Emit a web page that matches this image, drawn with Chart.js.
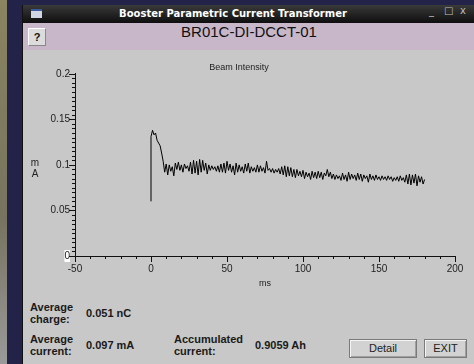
<!DOCTYPE html>
<html>
<head>
<meta charset="utf-8">
<script src="https://cdn.jsdelivr.net/npm/chart.js@4"></script>
<style>
  body { margin: 0; width: 474px; height: 364px; background: #23234a; overflow: hidden; position: relative; font-family: "Liberation Sans", Arial, sans-serif; }
  .strip { position: absolute; left: 0; top: 0; width: 7px; height: 364px; background: linear-gradient(#8a8460, #77735f 60%, #9a9a9a); }
  .win { position: absolute; left: 22px; top: 5px; width: 452px; height: 359px; background: #c8c8c8; border-left: 1px solid #111; }
  .titlebar { position: absolute; left: 0; top: 0; width: 452px; height: 18px; background: linear-gradient(#3a3a3a, #0e0e0e); color: #fff; font: bold 10px "DejaVu Sans", sans-serif; line-height: 18px; }
  .titlebar .txt { position: absolute; left: 0; width: 420px; text-align: center; }
  .titlebar .ico { position: absolute; left: 8px; top: 4px; width: 11px; height: 9px; background: #cfd6e4; border-top: 2px solid #3a5a9a; box-sizing: border-box; }
  .titlebar .ctl { position: absolute; top: 0; color: #bbb; font: 10px "DejaVu Sans", sans-serif; }
  .hdr { position: absolute; left: 0; top: 18px; width: 452px; height: 27px; background: #c8b7c9; }
  .hdr .name { position: absolute; left: 0; width: 452px; top: 0; line-height: 27px; text-align: center; font: 15px "Liberation Sans", Arial, sans-serif; color: #111; }
  .hdr .help { position: absolute; left: 5px; top: 5px; width: 18px; height: 18px; box-sizing: border-box; background: #dcdcdc; border: 1px solid #888; border-top-color: #fff; border-left-color: #fff; font: bold 11px "Liberation Sans", sans-serif; text-align: center; line-height: 16px; color: #111; }
  #wrap { position: absolute; left: 23px; top: 50px; width: 451px; height: 245px; }
  .lbl { position: absolute; font: bold 11px "Liberation Sans", Arial, sans-serif; color: #1a1a1a; line-height: 12px; }
  .btn { position: absolute; height: 19px; box-sizing: border-box; background: #d2d2d2; border: 1px solid #7a7a7a; box-shadow: inset 1px 1px 0 #f4f4f4, inset -1px -1px 0 #a0a0a0; font: 11px "Liberation Sans", Arial, sans-serif; color: #222; text-align: center; line-height: 17px; }
</style>
</head>
<body>
<div class="strip"></div>
<div class="win">
  <div class="titlebar">
    <div class="ico"></div>
    <div class="txt">Booster Parametric Current Transformer</div>
    <div class="ctl" style="left:406px;">_</div>
    <div class="ctl" style="left:421px;">□</div>
    <div class="ctl" style="left:437px;">x</div>
  </div>
  <div class="hdr"><div class="help">?</div><div class="name">BR01C-DI-DCCT-01</div></div>
</div>
<div id="wrap"><canvas id="chart" width="451" height="245"></canvas></div>

<div class="lbl" style="left:30px; top:301px;">Average<br>charge:</div>
<div class="lbl" style="left:86px; top:307px;">0.051 nC</div>
<div class="lbl" style="left:30px; top:333px;">Average<br>current:</div>
<div class="lbl" style="left:86px; top:339px;">0.097 mA</div>
<div class="lbl" style="left:174px; top:333px;">Accumulated<br>current:</div>
<div class="lbl" style="left:255px; top:339px;">0.9059 Ah</div>
<div class="btn" style="left:349px; top:339px; width:68px;">Detail</div>
<div class="btn" style="left:424px; top:339px; width:43px;">EXIT</div>

<script>
// beam onset: vertical rise at t = 0
const onsetMs = [0];
const onsetMA = [0.060];

// sampled beam current, one sample per ms starting at 0 ms
const sampleStartMs = 0;
const sampleStepMs = 1;
const beamMA = [
  0.131, 0.138, 0.133, 0.135, 0.127, 0.124, 0.121, 0.113, 0.104, 0.092,
  0.101, 0.089, 0.100, 0.093, 0.098, 0.088, 0.102, 0.095, 0.103, 0.094,
  0.100, 0.092, 0.101, 0.096, 0.099, 0.093, 0.103, 0.090, 0.105, 0.091,
  0.104, 0.089, 0.106, 0.092, 0.105, 0.094, 0.102, 0.090, 0.100, 0.094,
  0.099, 0.095, 0.098, 0.093, 0.099, 0.092, 0.101, 0.092, 0.102, 0.091,
  0.104, 0.094, 0.101, 0.092, 0.099, 0.089, 0.102, 0.092, 0.100, 0.093,
  0.098, 0.091, 0.101, 0.093, 0.102, 0.091, 0.098, 0.093, 0.097, 0.092,
  0.100, 0.092, 0.099, 0.093, 0.097, 0.091, 0.104, 0.094, 0.096, 0.092,
  0.096, 0.091, 0.095, 0.092, 0.096, 0.090, 0.098, 0.089, 0.099, 0.087,
  0.098, 0.088, 0.097, 0.087, 0.095, 0.086, 0.095, 0.088, 0.093, 0.087,
  0.094, 0.085, 0.092, 0.087, 0.091, 0.084, 0.093, 0.086, 0.092, 0.085,
  0.093, 0.086, 0.092, 0.084, 0.091, 0.088, 0.095, 0.087, 0.092, 0.085,
  0.090, 0.084, 0.089, 0.085, 0.088, 0.083, 0.091, 0.084, 0.089, 0.082,
  0.092, 0.084, 0.090, 0.085, 0.089, 0.083, 0.091, 0.084, 0.090, 0.082,
  0.089, 0.085, 0.088, 0.081, 0.090, 0.084, 0.088, 0.083, 0.089, 0.084,
  0.087, 0.083, 0.088, 0.084, 0.087, 0.083, 0.088, 0.084, 0.087, 0.082,
  0.086, 0.083, 0.087, 0.082, 0.088, 0.083, 0.086, 0.081, 0.089, 0.079,
  0.090, 0.078, 0.089, 0.080, 0.090, 0.077, 0.088, 0.081, 0.087, 0.079,
  0.084
];

// axis ticks
const xTickMajor = [-50, 0, 50, 100, 150, 200];
const yTickMajor = [0, 0.05, 0.1, 0.15, 0.2];

const points = onsetMs.map((t, i) => ({ x: t, y: onsetMA[i] }))
  .concat(beamMA.map((v, i) => ({ x: sampleStartMs + i * sampleStepMs, y: v })));

const isMajor = (list, v) => list.some(m => Math.abs(m - v) < 1e-9);
const tickFont = { family: 'Liberation Sans', size: 10 };

// short outward tick marks, longer at labelled values
const tickMarks = {
  id: 'tickMarks',
  afterDraw(chart) {
    const ctx = chart.ctx;
    const xs = chart.scales.x, ys = chart.scales.y;
    const area = chart.chartArea;
    ctx.save();
    ctx.fillStyle = '#111';
    xs.ticks.forEach(t => {
      const px = Math.round(xs.getPixelForValue(t.value));
      const len = isMajor(xTickMajor, t.value) ? 6 : 3;
      ctx.fillRect(px, Math.round(area.bottom), 1, len);
    });
    ys.ticks.forEach(t => {
      const py = Math.round(ys.getPixelForValue(t.value));
      const len = isMajor(yTickMajor, t.value) ? 6 : 3;
      ctx.fillRect(Math.round(area.left) - len, py, len, 1);
    });
    // unit label beside the y axis
    ctx.fillStyle = '#222';
    ctx.font = '10px "Liberation Sans"';
    ctx.textAlign = 'center';
    ctx.textBaseline = 'middle';
    const mid = (area.top + area.bottom) / 2;
    ctx.fillText('m', 12, mid - 2);
    ctx.fillText('A', 12, mid + 9);
    ctx.restore();
  }
};

new Chart(document.getElementById('chart'), {
  type: 'line',
  data: {
    datasets: [{
      data: points,
      borderColor: '#000',
      borderWidth: 1,
      pointRadius: 0,
      tension: 0
    }]
  },
  options: {
    responsive: false,
    animation: false,
    layout: { padding: { left: 0, right: 19, top: 0, bottom: 0 } },
    plugins: {
      legend: { display: false },
      tooltip: { enabled: false },
      title: {
        display: true,
        text: 'Beam Intensity',
        color: '#222',
        font: { family: 'Liberation Sans', size: 9, weight: 'normal' },
        padding: { top: 12, bottom: 1 }
      }
    },
    scales: {
      x: {
        type: 'linear',
        min: -50,
        max: 200,
        grid: { display: false, drawTicks: false },
        border: { color: '#111' },
        ticks: {
          stepSize: 10,
          autoSkip: false,
          maxRotation: 0,
          padding: 7,
          color: '#222',
          font: tickFont,
          callback: v => isMajor(xTickMajor, v) ? String(Math.round(v)) : ''
        },
        title: {
          display: true,
          text: 'ms',
          color: '#222',
          font: { family: 'Liberation Sans', size: 9 },
          padding: { top: 4, bottom: 6 }
        },
        afterFit: s => { s.height = 39; }
      },
      y: {
        min: 0,
        max: 0.2,
        grid: { display: false, drawTicks: false },
        border: { color: '#111' },
        ticks: {
          stepSize: 0.005,
          autoSkip: false,
          padding: 5,
          color: '#222',
          font: tickFont,
          showLabelBackdrop: c => c.tick && c.tick.value === 0,
          backdropColor: '#ffffff',
          backdropPadding: 0,
          callback: v => isMajor(yTickMajor, v) ? (v === 0 ? '0' : String(+v.toFixed(2))) : ''
        },
        afterFit: s => { s.width = 52; }
      }
    }
  },
  plugins: [tickMarks]
});
</script>
</body>
</html>
